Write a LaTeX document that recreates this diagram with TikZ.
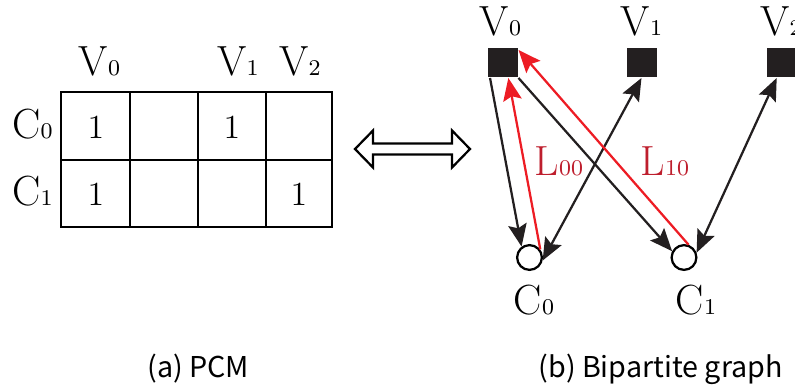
\documentclass[tikz,border=0pt]{standalone}
\usepackage{fontspec}
\usetikzlibrary{arrows.meta}
\newfontfamily\capfont{Noto Sans CJK JP}
\newcommand\subdig[1]{{\fontsize{8}{9}\selectfont #1}}
\definecolor{lblred}{RGB}{190,30,45}
\definecolor{lnred}{RGB}{237,28,36}
\definecolor{nblack}{RGB}{35,31,32}
\begin{document}
\begin{tikzpicture}[x=0.0125cm, y=-0.0125cm,
	every node/.style={inner sep=0pt, font=\fontsize{15}{18}\selectfont},
	cell/.style={anchor=base, font=\fontsize{12}{14}\selectfont},
	grid/.style={line width=0.8pt},
	vnode/.style={fill=nblack, minimum size=10.6pt},
	cnode/.style={circle, draw, line width=0.8pt, minimum size=8.8pt},
	>={Stealth[length=8pt, width=6.6pt, inset=1.4pt]},
	edge/.style={->, line width=0.8pt, nblack},
	redge/.style={->, line width=0.8pt, lnred}]
	\useasboundingbox (0,0) rectangle (795,387) ;
	% (a) PCM
	\draw[grid] (61,92) rectangle (332,227) ;
	\foreach \x in {130,198,266}
		\draw[grid] (\x,92) -- (\x,227) ;
	\draw[grid] (61,160) -- (332,160) ;
		\node (tv0)[anchor=base] at (99.5, 75) {V\subdig{0}} ;
		\node (tv1)[anchor=base] at (238, 75) {V\subdig{1}} ;
		\node (tv2)[anchor=base] at (300, 75) {V\subdig{2}} ;
		\node (tc0)[anchor=base] at (32.5, 138) {C\subdig{0}} ;
		\node (tc1)[anchor=base] at (32.5, 205) {C\subdig{1}} ;
		\node (m00)[cell] at (96, 138) {1} ;
		\node (m02)[cell] at (232, 138) {1} ;
		\node (m10)[cell] at (96, 205) {1} ;
		\node (m13)[cell] at (299, 205) {1} ;
	% double arrow
	\draw[line width=0.8pt] (355,149) -- (373,130.5) -- (373,143.5) -- (452,143.5) -- (452,130.5) -- (470,149)
		-- (452,167.5) -- (452,154.5) -- (373,154.5) -- (373,167.5) -- cycle ;
	% (b) bipartite graph
		\node (v0)[vnode] at (503, 62.5) {} ;
		\node (v1)[vnode] at (642, 62.5) {} ;
		\node (v2)[vnode] at (782, 62.5) {} ;
		\node (c0)[cnode] at (529.5, 257.5) {} ;
		\node (c1)[cnode] at (684, 257.5) {} ;
		\node (lv0)[anchor=base] at (500.5, 35) {V\subdig{0}} ;
		\node (lv1)[anchor=base] at (641.5, 35) {V\subdig{1}} ;
		\node (lv2)[anchor=base] at (781, 35) {V\subdig{2}} ;
		\node (lc0)[anchor=base] at (534, 314) {C\subdig{0}} ;
		\node (lc1)[anchor=base] at (696, 314) {C\subdig{1}} ;
		\node (l00)[anchor=base, text=lblred] at (559, 175) {L\subdig{00}} ;
		\node (l10)[anchor=base, text=lblred] at (665, 175) {L\subdig{10}} ;
	\draw[edge] (v0.-130) -- (c0.126) ;
	\draw[redge] (c0.37) -- (v0.-71) ;
	\draw[edge, <->] (v1.-92) -- (c0.-13) ;
	\draw[edge] (v0.-45) -- (c1.152) ;
	\draw[redge] (c1.70) -- (v0.39) ;
	\draw[edge, <->] (v2.-109) -- (c1.21) ;
	% captions
		\node (capa)[anchor=base west, font=\capfont\fontsize{10.2}{12}\selectfont] at (147, 377) {(a) PCM} ;
		\node (capb)[anchor=base west, font=\capfont\fontsize{10.2}{12}\selectfont] at (538, 377) {(b) Bipartite graph} ;
\end{tikzpicture}
\end{document}
